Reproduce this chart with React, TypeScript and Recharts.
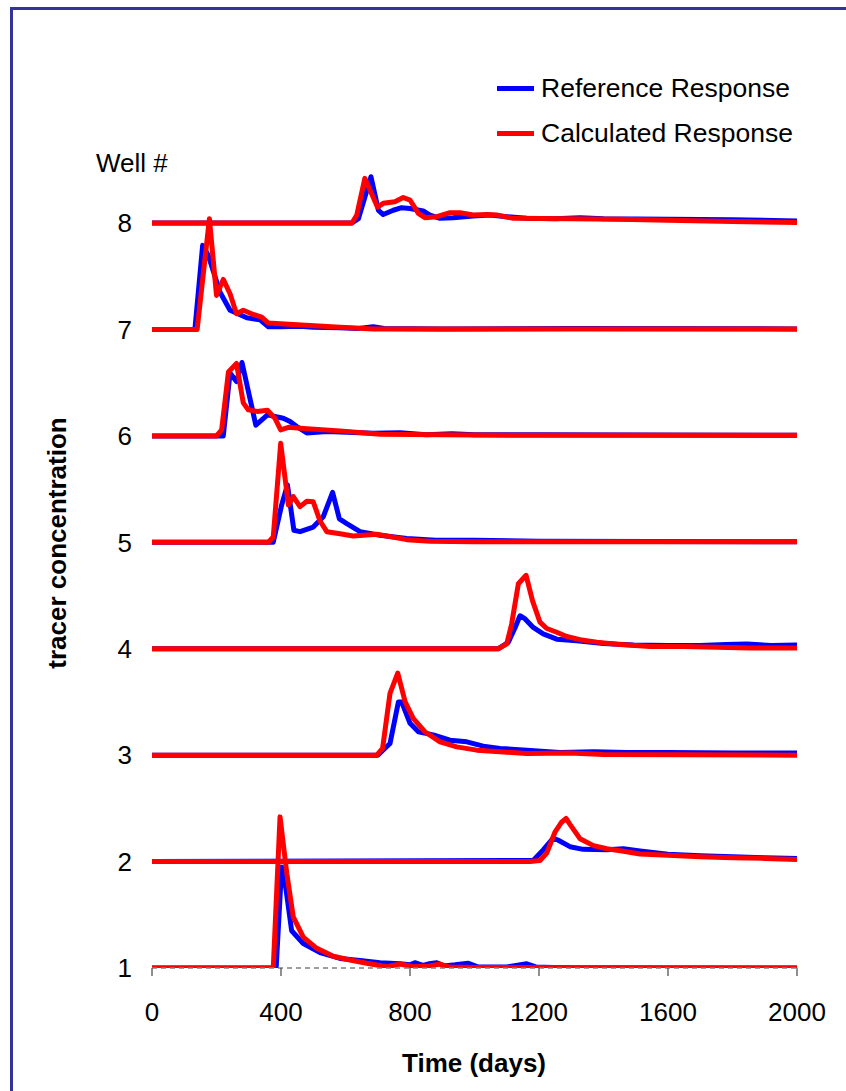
import React from 'react';
import { LineChart, Line, XAxis, YAxis } from 'recharts';

// Well numbers (vertical offsets) and axis ticks
const wells = [1, 2, 3, 4, 5, 6, 7, 8];
const xTicks = [0, 400, 800, 1200, 1600, 2000];
const yTicks = [1, 2, 3, 4, 5, 6, 7, 8];

// [time (days), tracer concentration above the well baseline]
const reference1: [number, number][] = [[0, 0], [385, 0], [402, 0.95], [415, 0.75], [433, 0.35], [469, 0.23], [521, 0.145], [583, 0.09], [645, 0.07], [707, 0.05], [769, 0.04], [800, 0.03], [815, 0.05], [840, 0.025], [860, 0.04], [883, 0.05], [905, 0.02], [940, 0.03], [981, 0.045], [1010, 0.01], [1100, 0.01], [1162, 0.04], [1190, 0.01], [1300, 0], [2000, 0]];
const calculated1: [number, number][] = [[0, 0], [376, 0], [397, 1.42], [418, 0.89], [438, 0.48], [469, 0.29], [511, 0.185], [562, 0.11], [614, 0.075], [666, 0.044], [728, 0.012], [769, 0.037], [810, 0.012], [860, 0.02], [893, 0.037], [920, 0.01], [1000, 0.005], [2000, 0]];

const reference2: [number, number][] = [[0, 0], [1182, 0.01], [1213, 0.11], [1244, 0.22], [1260, 0.2], [1296, 0.14], [1337, 0.115], [1410, 0.11], [1462, 0.12], [1513, 0.1], [1600, 0.07], [1700, 0.055], [1800, 0.045], [1900, 0.035], [2000, 0.03]];
const calculated2: [number, number][] = [[0, 0], [1172, 0], [1203, 0.01], [1224, 0.08], [1250, 0.28], [1270, 0.37], [1284, 0.405], [1296, 0.35], [1327, 0.215], [1369, 0.15], [1410, 0.12], [1462, 0.097], [1513, 0.072], [1600, 0.06], [1700, 0.045], [1800, 0.035], [1900, 0.03], [2000, 0.02]];

const reference3: [number, number][] = [[0, 0], [700, 0], [738, 0.11], [764, 0.5], [774, 0.5], [800, 0.3], [826, 0.22], [872, 0.19], [924, 0.14], [976, 0.125], [1027, 0.085], [1079, 0.063], [1162, 0.047], [1265, 0.025], [1369, 0.031], [1472, 0.025], [1600, 0.025], [1800, 0.02], [2000, 0.02]];
const calculated3: [number, number][] = [[0, 0], [697, 0], [715, 0.063], [738, 0.58], [762, 0.77], [785, 0.5], [810, 0.345], [846, 0.22], [893, 0.125], [945, 0.078], [1007, 0.047], [1079, 0.031], [1162, 0.016], [1296, 0.02], [1400, 0.005], [2000, 0]];

const reference4: [number, number][] = [[0, 0], [1074, 0], [1105, 0.06], [1126, 0.2], [1141, 0.31], [1157, 0.28], [1182, 0.2], [1213, 0.14], [1255, 0.09], [1317, 0.075], [1400, 0.05], [1493, 0.035], [1600, 0.03], [1699, 0.03], [1780, 0.04], [1844, 0.045], [1920, 0.03], [2000, 0.035]];
const calculated4: [number, number][] = [[0, 0], [1074, 0], [1100, 0.045], [1115, 0.23], [1136, 0.61], [1160, 0.69], [1180, 0.45], [1203, 0.25], [1224, 0.19], [1255, 0.155], [1286, 0.115], [1327, 0.085], [1379, 0.062], [1441, 0.043], [1544, 0.02], [1648, 0.02], [1751, 0.015], [1854, 0.006], [2000, 0.006]];

const reference5: [number, number][] = [[0, 0], [376, 0], [402, 0.35], [420, 0.54], [440, 0.113], [459, 0.1], [500, 0.143], [531, 0.24], [560, 0.47], [581, 0.22], [604, 0.175], [645, 0.1], [707, 0.066], [790, 0.035], [880, 0.02], [1000, 0.02], [1200, 0.01], [2000, 0.005]];
const calculated5: [number, number][] = [[0, 0], [361, 0], [376, 0.05], [399, 0.93], [423, 0.35], [438, 0.43], [459, 0.335], [480, 0.385], [500, 0.38], [521, 0.2], [542, 0.1], [583, 0.08], [624, 0.06], [697, 0.075], [790, 0.025], [862, 0.01], [1000, 0.005], [2000, 0.005]];

const reference6: [number, number][] = [[0, 0], [221, 0], [242, 0.59], [262, 0.51], [279, 0.69], [322, 0.1], [358, 0.197], [407, 0.166], [428, 0.135], [449, 0.087], [480, 0.028], [542, 0.04], [687, 0.025], [769, 0.03], [850, 0.01], [930, 0.02], [1000, 0.01], [1200, 0.01], [2000, 0.005]];
const calculated6: [number, number][] = [[0, 0], [200, 0], [216, 0.056], [237, 0.6], [262, 0.68], [283, 0.31], [299, 0.244], [326, 0.23], [358, 0.24], [381, 0.166], [399, 0.056], [423, 0.08], [480, 0.066], [583, 0.047], [707, 0.016], [900, 0.01], [1200, 0.005], [2000, 0.005]];

const reference7: [number, number][] = [[0, 0], [133, 0], [157, 0.79], [174, 0.7], [211, 0.35], [242, 0.18], [294, 0.11], [335, 0.09], [361, 0.025], [397, 0.025], [459, 0.03], [500, 0.02], [580, 0.015], [640, 0.01], [686, 0.025], [720, 0.01], [900, 0.005], [1300, 0.01], [2000, 0.005]];
const calculated7: [number, number][] = [[0, 0], [140, 0], [178, 1.04], [200, 0.32], [221, 0.47], [242, 0.335], [262, 0.147], [283, 0.18], [309, 0.147], [340, 0.115], [361, 0.06], [397, 0.053], [583, 0.02], [686, 0.005], [2000, 0.005]];

const reference8: [number, number][] = [[0, 0], [620, 0], [640, 0.04], [679, 0.435], [702, 0.12], [717, 0.08], [748, 0.12], [774, 0.144], [800, 0.137], [841, 0.113], [862, 0.075], [893, 0.044], [934, 0.05], [996, 0.066], [1048, 0.075], [1100, 0.06], [1162, 0.044], [1250, 0.04], [1327, 0.05], [1400, 0.04], [1600, 0.035], [1800, 0.03], [2000, 0.02]];
const calculated8: [number, number][] = [[0, 0], [620, 0], [635, 0.075], [660, 0.42], [699, 0.15], [717, 0.185], [753, 0.2], [779, 0.24], [800, 0.216], [826, 0.09], [846, 0.05], [883, 0.06], [924, 0.097], [955, 0.097], [996, 0.075], [1038, 0.08], [1069, 0.075], [1120, 0.044], [1300, 0.04], [1451, 0.035], [1600, 0.025], [1800, 0.015], [2000, 0.005]];

const referenceSeries = [reference1, reference2, reference3, reference4, reference5, reference6, reference7, reference8];
const calculatedSeries = [calculated1, calculated2, calculated3, calculated4, calculated5, calculated6, calculated7, calculated8];

const toPoints = (well: number, pts: [number, number][]) => pts.map(([t, c]) => ({ t, v: well + c }));

const FONT = '"Liberation Sans", Arial, sans-serif';
const BLUE = '#0000FF';
const RED = '#FF0000';

export default function App() {
  return (
    <div style={{ position: 'fixed', left: 0, top: 0, width: 846, height: 1091, overflow: 'hidden', background: '#fff', fontFamily: FONT }}>
      <div style={{ position: 'absolute', left: 10, top: 7, width: 900, height: 1200, border: '3px solid #333399', boxSizing: 'border-box' }} />
      <div style={{ position: 'absolute', left: 0, top: 0 }}>
        <LineChart width={846} height={1091} margin={{ top: 116.6, right: 49, bottom: 93, left: 92 }}>
          <XAxis
            dataKey="t"
            type="number"
            domain={[0, 2000]}
            ticks={xTicks}
            allowDataOverflow
            height={30}
            tickSize={8}
            tickMargin={27}
            axisLine={{ stroke: '#808080', strokeDasharray: '5 4', strokeWidth: 1.5 }}
            tickLine={{ stroke: '#444', strokeWidth: 1.2 }}
            tick={{ fill: '#000', fontSize: 26, fontFamily: FONT }}
          />
          <YAxis
            type="number"
            domain={[1, 9]}
            ticks={yTicks}
            allowDataOverflow
            width={60}
            axisLine={false}
            tickLine={false}
            tickSize={0}
            tickMargin={20}
            tick={{ fill: '#000', fontSize: 26, fontFamily: FONT }}
          />
          {wells.map((w, i) => (
            <Line
              key={'ref' + w}
              data={toPoints(w, referenceSeries[i])}
              dataKey="v"
              type="linear"
              stroke={BLUE}
              strokeWidth={5}
              dot={false}
              activeDot={false}
              strokeLinejoin="round"
              isAnimationActive={false}
            />
          ))}
          {wells.map((w, i) => (
            <Line
              key={'calc' + w}
              data={toPoints(w, calculatedSeries[i])}
              dataKey="v"
              type="linear"
              stroke={RED}
              strokeWidth={5}
              dot={false}
              activeDot={false}
              strokeLinejoin="round"
              isAnimationActive={false}
            />
          ))}
        </LineChart>
      </div>
      {/* legend */}
      <div style={{ position: 'absolute', left: 497, top: 70, fontSize: 26.5, lineHeight: '36px', color: '#000' }}>
        <div style={{ display: 'flex', alignItems: 'center', height: 36 }}>
          <div style={{ width: 37, height: 5, background: BLUE, marginRight: 7 }} />
          <span>Reference Response</span>
        </div>
        <div style={{ display: 'flex', alignItems: 'center', height: 36, marginTop: 9 }}>
          <div style={{ width: 37, height: 5, background: RED, marginRight: 7 }} />
          <span>Calculated Response</span>
        </div>
      </div>
      <div style={{ position: 'absolute', left: 96, top: 146, fontSize: 26, lineHeight: '34px', color: '#000' }}>Well #</div>
      <div style={{ position: 'absolute', left: 474, top: 1063, transform: 'translate(-50%, -50%)', fontSize: 26, fontWeight: 'bold', whiteSpace: 'nowrap', color: '#000' }}>Time (days)</div>
      <div style={{ position: 'absolute', left: 57, top: 543, transform: 'translate(-50%, -50%) rotate(-90deg)', fontSize: 26, fontWeight: 'bold', whiteSpace: 'nowrap', color: '#000' }}>tracer concentration</div>
    </div>
  );
}
